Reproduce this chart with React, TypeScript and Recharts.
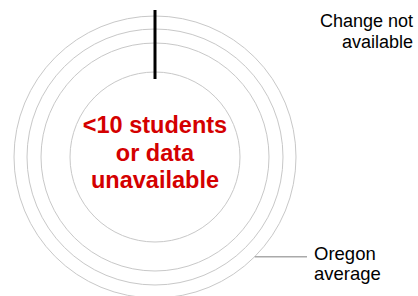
import { RadialBarChart, RadialBar, PolarGrid, PolarRadiusAxis, PolarAngleAxis } from 'recharts'

/* rings drawn as radius-axis ticks, in px radius units */
const ringTicks = [85, 114, 128, 141]
const radiusDomain = [0, 141]

/* change marker: radial extent at 12 o'clock */
const markerRange = [78, 147]

const centerLines = ['<10 students', 'or data', 'unavailable']
const changeLines = ['Change not', 'available']
const stateLines = ['Oregon', 'average']

const CX = 155
const CY = 157
const FONT = 'Arial, "Liberation Sans", sans-serif'

export default function App() {
  const outer = radiusDomain[1]
  // leader point on outer ring at -45deg
  const lx = CX + outer * Math.cos(Math.PI / 4)
  const ly = CY + outer * Math.sin(Math.PI / 4)
  return (
    <div style={{ position: 'absolute', left: 0, top: 0, width: 418, height: 296, background: '#fff' }}>
      <RadialBarChart
        width={418}
        height={296}
        cx={CX}
        cy={CY}
        innerRadius={0}
        outerRadius={outer}
        data={[{ name: 'x', value: 0 }]}
        margin={{ top: 0, right: 0, bottom: 0, left: 0 }}
      >
        <PolarAngleAxis type="number" domain={[0, 100]} tick={false} axisLine={false} />
        <PolarRadiusAxis
          type="number"
          domain={radiusDomain}
          ticks={ringTicks}
          tick={false}
          axisLine={false}
        />
        <PolarGrid
          gridType="circle"
          radialLines={false}
          stroke="#c8c8c8"
          strokeWidth={1}
          cx={CX}
          cy={CY}
          innerRadius={0}
          outerRadius={outer}
          polarRadius={ringTicks}
          polarAngles={[90]}
        />
        <RadialBar dataKey="value" fill="none" isAnimationActive={false} />
        <line x1={CX} x2={CX} y1={CY - markerRange[0]} y2={CY - markerRange[1]} stroke="#000" strokeWidth={3} />
        <line x1={lx} x2={307} y1={ly} y2={ly} stroke="#aaa" strokeWidth={1.5} />
        <text textAnchor="middle" fill="#d40000" fontFamily={FONT} fontWeight="bold" fontSize={23.5}>
          {centerLines.map((t, i) => (
            <tspan key={t} x={CX} y={133 + i * 27.5}>{t}</tspan>
          ))}
        </text>
        <text textAnchor="end" fill="#000" fontFamily={FONT} fontSize={18}>
          {changeLines.map((t, i) => (
            <tspan key={t} x={413} y={27 + i * 21}>{t}</tspan>
          ))}
        </text>
        <text textAnchor="start" fill="#000" fontFamily={FONT} fontSize={18.5}>
          {stateLines.map((t, i) => (
            <tspan key={t} x={314} y={260 + i * 20}>{t}</tspan>
          ))}
        </text>
      </RadialBarChart>
    </div>
  )
}
